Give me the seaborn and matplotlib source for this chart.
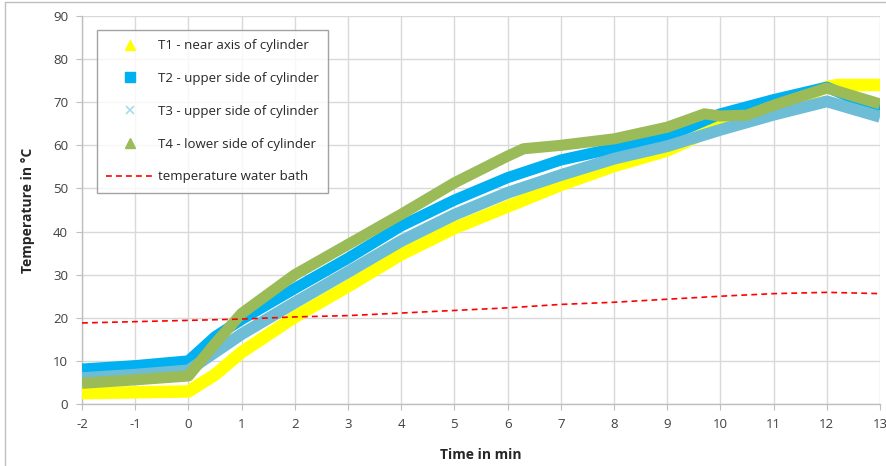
import matplotlib
matplotlib.use("Agg")
import matplotlib.pyplot as plt
import seaborn as sns
import pandas as pd
from matplotlib.lines import Line2D

# ---- data ----
t1_time = [-2, -1, 0, 0.5, 1, 2, 3, 4, 5, 6, 7, 8, 9, 10, 11, 12, 12.2, 13]
t1_temp = [2.5, 2.7, 2.9, 6.8, 12.0, 20.2, 27.3, 34.7, 40.8, 45.8, 50.8, 55.2, 58.8, 64.5, 68.6, 73.5, 74.0, 74.0]

t2_time = [-2, -1, 0, 0.25, 0.5, 1, 2, 3, 4, 5, 6, 7, 8, 9, 10, 11, 12, 13]
t2_temp = [8.1, 8.9, 10.0, 12.8, 15.6, 19.6, 26.8, 33.8, 41.3, 47.3, 52.5, 56.6, 59.3, 62.0, 67.3, 70.6, 73.5, 68.2]

t3_time = [-2, -1, 0, 0.5, 1, 2, 3, 4, 5, 6, 7, 8, 9, 10, 11, 12, 13]
t3_temp = [6.0, 6.8, 7.8, 12.0, 16.2, 23.5, 30.6, 37.8, 43.9, 49.0, 53.1, 56.9, 59.8, 63.6, 67.1, 70.2, 66.6]

t4_time = [-2, -1, 0, 0.5, 1, 2, 3, 4, 5, 6, 6.3, 7, 8, 9, 9.7, 10, 10.5, 11, 12, 13]
t4_temp = [4.8, 5.6, 6.5, 14.0, 21.0, 30.0, 37.0, 44.0, 51.3, 57.5, 59.2, 60.0, 61.5, 64.2, 67.3, 66.8, 67.0, 69.3, 73.3, 69.6]

bath_time = [-2, 0, 1, 2, 3, 4, 5, 6, 7, 8, 9, 10, 11, 12, 13]
bath_temp = [18.8, 19.4, 19.7, 20.2, 20.5, 21.1, 21.7, 22.3, 23.1, 23.6, 24.3, 25.0, 25.6, 25.9, 25.6]

labels = ["T1 - near axis of cylinder", "T2 - upper side of cylinder",
          "T3 - upper side of cylinder", "T4 - lower side of cylinder",
          "temperature water bath"]
x_ticks = list(range(-2, 14))
y_ticks = list(range(0, 91, 10))

colors = ["#ffff00", "#00b0f0", "#6cbdd5", "#9bbb59", "#ff0000"]

sns.set_style("white")
plt.rcParams["font.family"] = ["Open Sans", "DejaVu Sans"]

fig = plt.figure(figsize=(8.86, 4.66), dpi=100)
ax = fig.add_axes([82 / 886, 1 - 404 / 466, (880 - 82) / 886, (404 - 16) / 466])

series = [(t1_time, t1_temp), (t2_time, t2_temp), (t3_time, t3_temp), (t4_time, t4_temp)]
widths = [9.0, 8.0, 8.5, 8.0]
for (tt, vv), c, w in zip(series, colors[:4], widths):
    df = pd.DataFrame({"time": tt, "temp": vv})
    sns.lineplot(data=df, x="time", y="temp", ax=ax, color=c, linewidth=w,
                 legend=False, solid_capstyle="butt", solid_joinstyle="round", zorder=3)

dfb = pd.DataFrame({"time": bath_time, "temp": bath_temp})
sns.lineplot(data=dfb, x="time", y="temp", ax=ax, color=colors[4], linewidth=1.2,
             legend=False, zorder=4)
ax.lines[-1].set_dashes([3.5, 2.5])

ax.set_xlim(-2, 13)
ax.set_ylim(0, 90)
ax.set_xticks(x_ticks)
ax.set_yticks(y_ticks)
ax.set_xticklabels([str(v) for v in x_ticks])
ax.set_yticklabels([str(v) for v in y_ticks])
ax.grid(True, color="#d9d9d9", linewidth=1.0)
ax.set_axisbelow(True)
for s in ["top", "right"]:
    ax.spines[s].set_visible(False)
for s in ["left", "bottom"]:
    ax.spines[s].set_color("#bfbfbf")
    ax.spines[s].set_linewidth(1.0)
ax.tick_params(axis="both", which="both", direction="out", length=4, color="#bfbfbf",
               labelsize=9.5, labelcolor="#404040", pad=6, left=True, bottom=True)
ax.set_xlabel("Time in min", fontsize=10, fontweight="bold", color="#262626", labelpad=12)
ax.set_ylabel("Temperature in °C", fontsize=10, fontweight="bold", color="#262626", labelpad=13)

handles = [
    Line2D([], [], linestyle="none", marker="^", markersize=7, color=colors[0]),
    Line2D([], [], linestyle="none", marker="s", markersize=7, color=colors[1]),
    Line2D([], [], linestyle="none", marker="x", markersize=6, markeredgewidth=1.2, color="#a8dcec"),
    Line2D([], [], linestyle="none", marker="^", markersize=7, color=colors[3]),
    Line2D([], [], linestyle=(0, (3.5, 2.5)), linewidth=1.2, color=colors[4]),
]
leg = ax.legend(handles, labels, loc="upper left",
                bbox_to_anchor=((97 - 82) / (880 - 82), (404 - 30) / (404 - 16)),
                borderaxespad=0, frameon=True, fancybox=False, fontsize=9.5,
                labelspacing=1.5, handlelength=3.6, handletextpad=0.3,
                borderpad=0.7)
leg.get_frame().set_edgecolor("#8c8c8c")
leg.get_frame().set_linewidth(1.0)
for txt in leg.get_texts():
    txt.set_color("#262626")
leg.set_zorder(6)

# outer chart frame
fig.add_artist(Line2D([5 / 886, 5 / 886], [0, 1 - 2 / 466], transform=fig.transFigure,
                      color="#bfbfbf", linewidth=1.0))
fig.add_artist(Line2D([5 / 886, 1], [1 - 2 / 466, 1 - 2 / 466], transform=fig.transFigure,
                      color="#bfbfbf", linewidth=1.0))

fig.savefig("out.png", dpi=100)
